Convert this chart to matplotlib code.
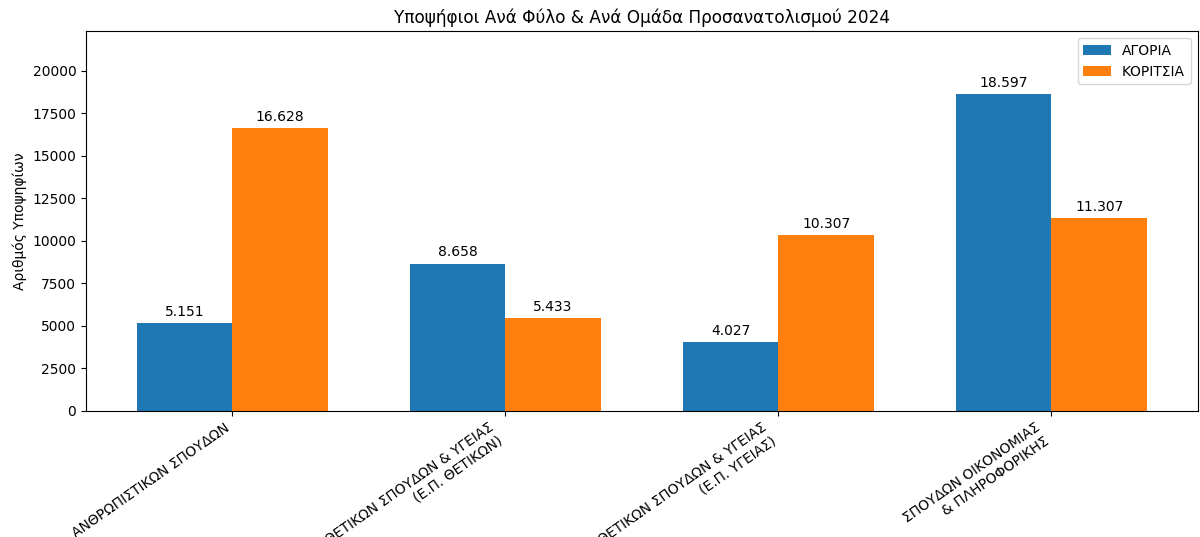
import matplotlib.pyplot as plt
import numpy as np

categories = ['ΑΝΘΡΩΠΙΣΤΙΚΩΝ ΣΠΟΥΔΩΝ',
              'ΘΕΤΙΚΩΝ ΣΠΟΥΔΩΝ & ΥΓΕΙΑΣ\n(Ε.Π. ΘΕΤΙΚΩΝ)',
              'ΘΕΤΙΚΩΝ ΣΠΟΥΔΩΝ & ΥΓΕΙΑΣ\n(Ε.Π. ΥΓΕΙΑΣ)',
              'ΣΠΟΥΔΩΝ ΟΙΚΟΝΟΜΙΑΣ\n& ΠΛΗΡΟΦΟΡΙΚΗΣ']
boys = [5151, 8658, 4027, 18597]
girls = [16628, 5433, 10307, 11307]

x = np.arange(len(categories))
width = 0.35

fig = plt.figure(figsize=(12, 5.37), dpi=100)
ax = fig.add_axes([0.0717, 0.235, 0.9263, 0.707])

b1 = ax.bar(x - width / 2, boys, width, label='ΑΓΟΡΙΑ')
b2 = ax.bar(x + width / 2, girls, width, label='ΚΟΡΙΤΣΙΑ')

fmt = lambda v: f'{v:,}'.replace(',', '.')
ax.bar_label(b1, labels=[fmt(v) for v in boys], padding=3, fontsize=10)
ax.bar_label(b2, labels=[fmt(v) for v in girls], padding=3, fontsize=10)

ax.set_ylim(0, max(boys + girls) * 1.2)
ax.set_xticks(x)
ax.set_xticklabels(categories, rotation=35, ha='right')
ax.set_ylabel('Αριθμός Υποψηφίων')
ax.set_title('Υποψήφιοι Ανά Φύλο & Ανά Ομάδα Προσανατολισμού 2024', fontsize=12.2)
ax.legend()

fig.savefig('out.png', dpi=100)
